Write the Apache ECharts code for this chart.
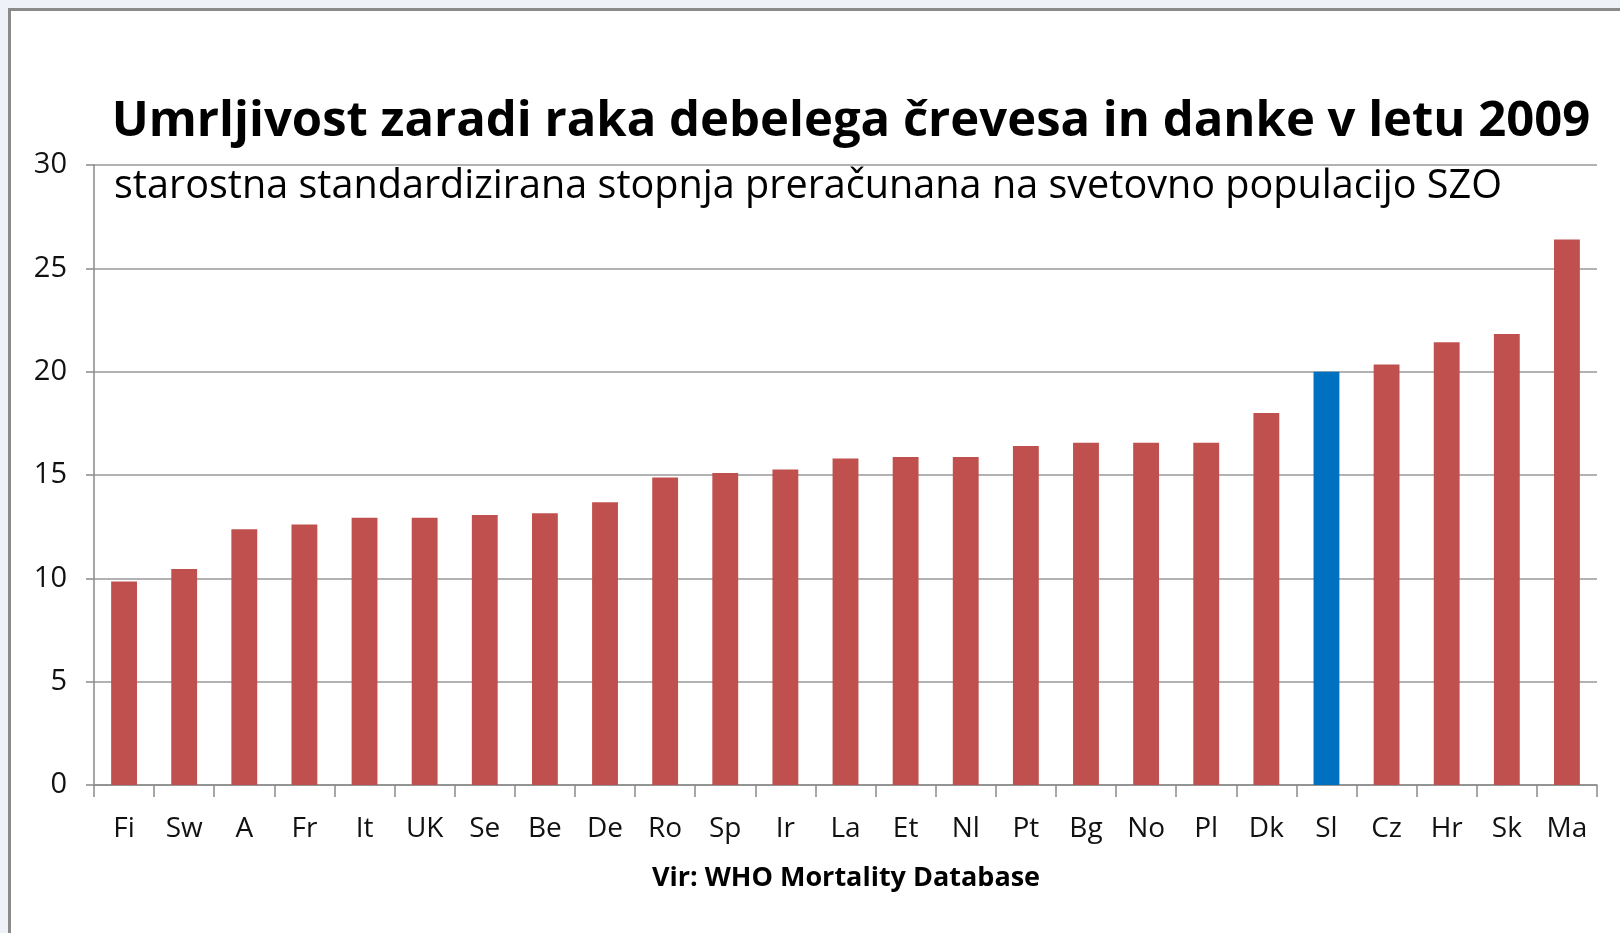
<!DOCTYPE html>
<html>
<head>
<meta charset="utf-8">
<script src="https://cdn.jsdelivr.net/npm/echarts@6/dist/echarts.min.js"></script>
<style>
  html, body { margin: 0; padding: 0; background: #eef2f8; }
  #frame {
    position: absolute; left: 8px; top: 8px; width: 1640px; height: 960px;
    background: #ffffff; border-left: 3px solid #8a8a8a; border-top: 3px solid #8a8a8a;
  }
  #main { position: absolute; left: 0; top: 0; width: 1620px; height: 933px; }
</style>
</head>
<body>
<div id="frame"></div>
<div id="main"></div>
<script>
// kratice držav
const countries = ["Fi", "Sw", "A", "Fr", "It", "UK", "Se", "Be", "De", "Ro", "Sp", "Ir", "La",
  "Et", "Nl", "Pt", "Bg", "No", "Pl", "Dk", "Sl", "Cz", "Hr", "Sk", "Ma"];
// starostno standardizirana stopnja umrljivosti
const rates = [9.85, 10.45, 12.37, 12.6, 12.93, 12.93, 13.07, 13.15, 13.68, 14.88, 15.1, 15.27, 15.8,
  15.87, 15.87, 16.4, 16.56, 16.56, 16.56, 18.0, 20.0, 20.35, 21.42, 21.82, 26.4];
const highlighted = "Sl";
const yTicks = [0, 5, 10, 15, 20, 25, 30];

const titleText = "Umrljivost zaradi raka debelega črevesa in danke v letu 2009";
const subtitleText = "starostna standardizirana stopnja preračunana na svetovno populacijo SZO";
const sourceText = "Vir: WHO Mortality Database";

const font = "'Open Sans', 'Noto Sans', sans-serif";
const red = "#C0504D";
const blue = "#0070C0";

const myChart = echarts.init(document.getElementById("main"), null, { renderer: "canvas" });

const option = {
  backgroundColor: "transparent",
  animation: false,
  title: [
    {
      text: titleText,
      left: 851,
      top: 98,
      textAlign: "center",
      padding: 0,
      textStyle: { fontFamily: font, fontWeight: "bold", fontSize: 49, color: "#000" },
    },
    {
      text: subtitleText,
      left: 114,
      top: 167,
      padding: 0,
      textStyle: { fontFamily: font, fontWeight: "normal", fontSize: 39.6, color: "#000" },
    },
    {
      text: sourceText,
      left: 846,
      top: 865,
      textAlign: "center",
      padding: 0,
      textStyle: { fontFamily: font, fontWeight: "bold", fontSize: 27, color: "#000" },
    },
  ],
  grid: {
    left: 94,
    right: 23,
    top: 165,
    bottom: 148,
    containLabel: false,
  },
  xAxis: {
    type: "category",
    data: countries,
    boundaryGap: true,
    axisLine: { lineStyle: { color: "#8a8a8a", width: 1.5 } },
    axisTick: { show: true, interval: 0, length: 12, lineStyle: { color: "#8a8a8a", width: 1.5 } },
    axisLabel: { interval: 0, margin: 30, fontFamily: font, fontSize: 28, color: "#111" },
  },
  yAxis: {
    type: "value",
    min: yTicks[0],
    max: yTicks[yTicks.length - 1],
    interval: 5,
    axisLine: { show: true, lineStyle: { color: "#8a8a8a", width: 1.5 } },
    axisTick: { show: true, length: 8, lineStyle: { color: "#8a8a8a", width: 1.5 } },
    axisLabel: { margin: 27, fontFamily: font, fontSize: 29, color: "#111" },
    // vodoravne mrežne črte
    splitLine: { show: true, lineStyle: { color: "#999999", width: 1.5, type: "solid" } },
  },
  series: [
    {
      type: "bar",
      barWidth: "43%",
      data: rates.map((v, i) => ({
        value: v,
        itemStyle: { color: countries[i] === highlighted ? blue : red },
      })),
    },
  ],
};

myChart.setOption(option);
</script>
</body>
</html>
